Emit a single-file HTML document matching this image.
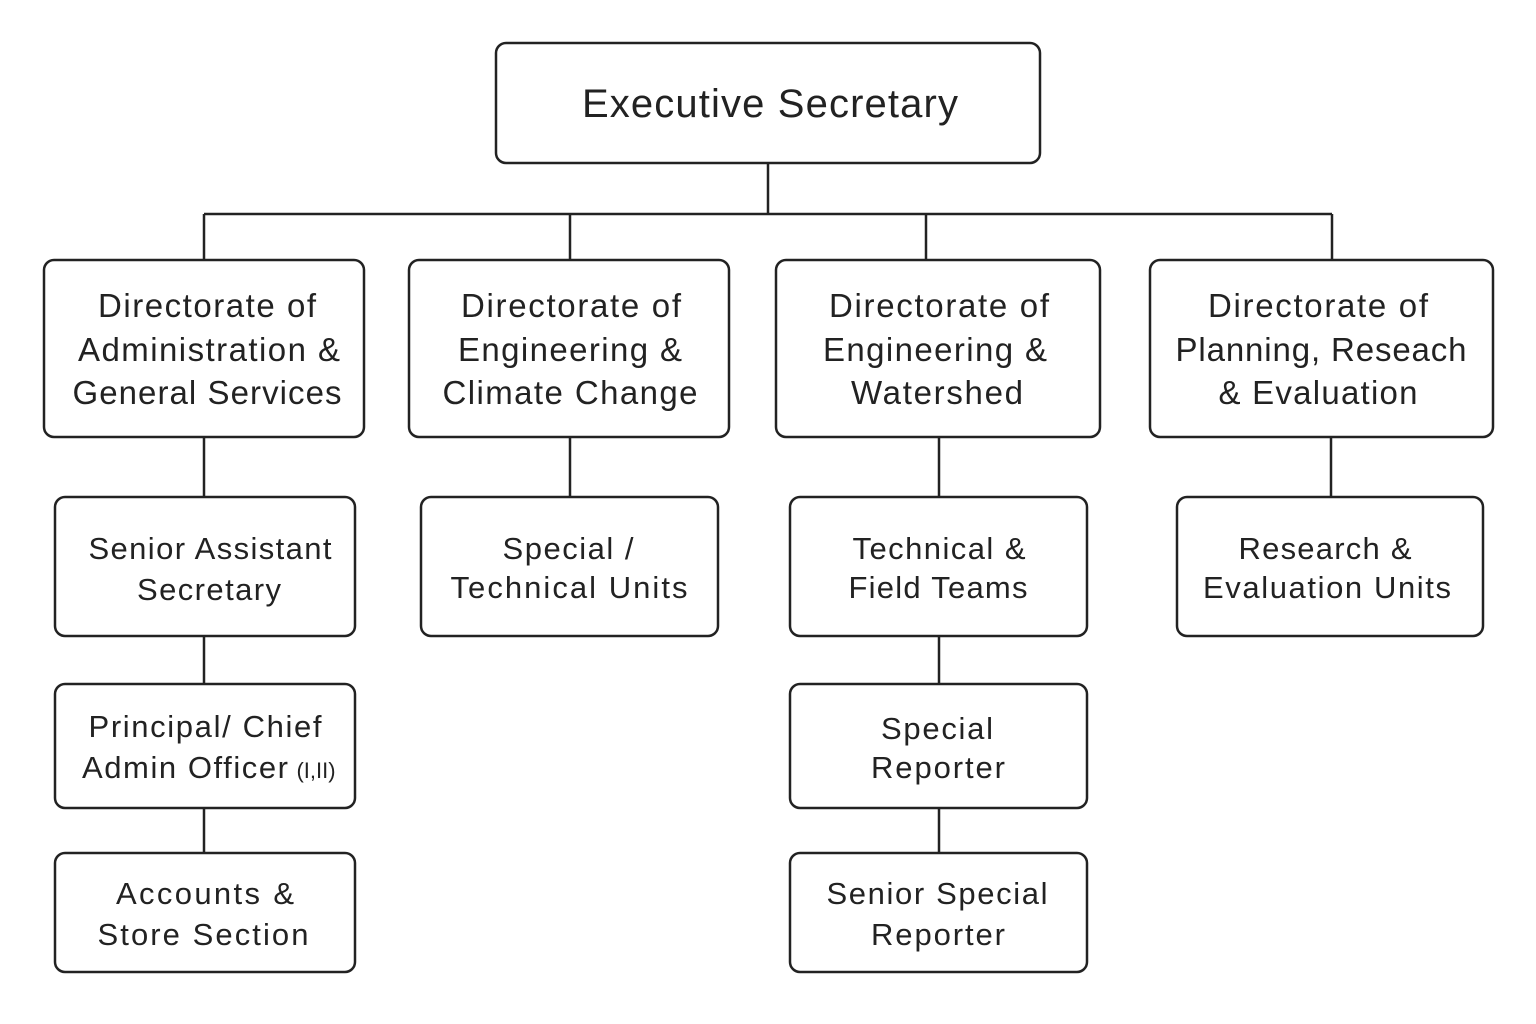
<!DOCTYPE html>
<html><head><meta charset="utf-8"><style>
html,body{margin:0;padding:0;background:#fff;}
svg{display:block}
text{font-family:"Liberation Sans",sans-serif;fill:#222;text-anchor:middle}
</style></head><body>
<svg width="1536" height="1024" viewBox="0 0 1536 1024">
<g fill="none" stroke="#222" stroke-width="2.5">
<rect x="496" y="43" width="544" height="120" rx="10"/>
<path d="M768 163V214M204 214H1332M204 214V260M570 214V260M926 214V260M1332 214V260"/>
<rect x="44" y="260" width="320" height="177" rx="10"/>
<rect x="409" y="260" width="320" height="177" rx="10"/>
<rect x="776" y="260" width="324" height="177" rx="10"/>
<rect x="1150" y="260" width="343" height="177" rx="10"/>
<path d="M204 437V497M204 636V684M204 808V853M570 437V497M939 437V497M939 636V684M939 808V853M1331 437V497"/>
<rect x="55" y="497" width="300" height="139" rx="10"/>
<rect x="421" y="497" width="297" height="139" rx="10"/>
<rect x="790" y="497" width="297" height="139" rx="10"/>
<rect x="1177" y="497" width="306" height="139" rx="10"/>
<rect x="55" y="684" width="300" height="124" rx="10"/>
<rect x="790" y="684" width="297" height="124" rx="10"/>
<rect x="55" y="853" width="300" height="119" rx="10"/>
<rect x="790" y="853" width="297" height="119" rx="10"/>
</g>
<text x="770" y="117" font-size="40" textLength="376" lengthAdjust="spacing">Executive Secretary</text>
<g font-size="33">
<text x="207" y="317" textLength="218" lengthAdjust="spacing">Directorate of</text>
<text x="209" y="361" textLength="262" lengthAdjust="spacing">Administration &amp;</text>
<text x="207" y="404" textLength="269" lengthAdjust="spacing">General Services</text>
<text x="571" y="317" textLength="220" lengthAdjust="spacing">Directorate of</text>
<text x="570" y="361" textLength="224" lengthAdjust="spacing">Engineering &amp;</text>
<text x="570" y="404" textLength="255" lengthAdjust="spacing">Climate Change</text>
<text x="939" y="317" textLength="220" lengthAdjust="spacing">Directorate of</text>
<text x="935" y="361" textLength="224" lengthAdjust="spacing">Engineering &amp;</text>
<text x="937" y="404" textLength="172" lengthAdjust="spacing">Watershed</text>
<text x="1318" y="317" textLength="220" lengthAdjust="spacing">Directorate of</text>
<text x="1321" y="361" textLength="291" lengthAdjust="spacing">Planning, Reseach</text>
<text x="1318" y="404" textLength="199" lengthAdjust="spacing">&amp; Evaluation</text>
</g>
<g font-size="31">
<text x="210" y="559" textLength="243" lengthAdjust="spacing">Senior Assistant</text>
<text x="209" y="600" textLength="144" lengthAdjust="spacing">Secretary</text>
<text x="568" y="559" textLength="131" lengthAdjust="spacing">Special /</text>
<text x="569" y="598" textLength="237" lengthAdjust="spacing">Technical Units</text>
<text x="939" y="559" textLength="173" lengthAdjust="spacing">Technical &amp;</text>
<text x="938" y="598" textLength="179" lengthAdjust="spacing">Field Teams</text>
<text x="1325" y="559" textLength="173" lengthAdjust="spacing">Research &amp;</text>
<text x="1327" y="598" textLength="248" lengthAdjust="spacing">Evaluation Units</text>
<text x="205" y="737" textLength="233" lengthAdjust="spacing">Principal/ Chief</text>
<text x="185" y="778" textLength="206" lengthAdjust="spacing">Admin Officer</text>
<text x="316" y="778" font-size="22">(I,II)</text>
<text x="937" y="739" textLength="112" lengthAdjust="spacing">Special</text>
<text x="938" y="778" textLength="134" lengthAdjust="spacing">Reporter</text>
<text x="205" y="904" textLength="178" lengthAdjust="spacing">Accounts &amp;</text>
<text x="203" y="945" textLength="211" lengthAdjust="spacing">Store Section</text>
<text x="937" y="904" textLength="221" lengthAdjust="spacing">Senior Special</text>
<text x="938" y="945" textLength="134" lengthAdjust="spacing">Reporter</text>
</g>
</svg>
</body></html>
